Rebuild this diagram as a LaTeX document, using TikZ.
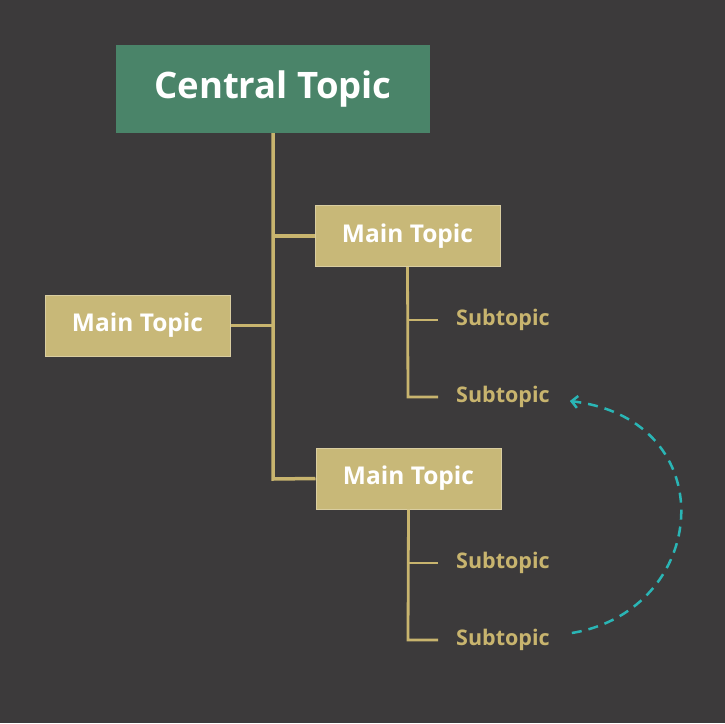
\documentclass[tikz,border=0pt]{standalone}
\usepackage{fontspec}
\setmainfont{Open Sans}
\usetikzlibrary{arrows.meta,calc}
\definecolor{bg}{HTML}{3C3A3B}
\definecolor{cgreen}{HTML}{4A8469}
\definecolor{tan}{HTML}{C8B878}
\definecolor{tanl}{HTML}{C8B46E}
\definecolor{teal}{HTML}{2AB5B5}
\tikzset{
 central/.style={fill=cgreen,minimum width=314pt,minimum height=88pt,inner sep=0pt,text=white,font=\bfseries\fontsize{36.5}{40}\selectfont},
 mainbox/.style={fill=tan,draw=tan!70!white,line width=1pt,minimum width=185pt,minimum height=61pt,inner sep=0pt,text=white,font=\bfseries\fontsize{24.5}{28}\selectfont},
 sub/.style={anchor=west,inner sep=0pt,text=tanl,font=\bfseries\fontsize{21.5}{24}\selectfont},
 branch/.style={draw=tanl,line width=3.5pt},
 subline/.style={draw=tanl,line width=2.8pt}
}
\begin{document}
\begin{tikzpicture}[x=1pt,y=-1pt]
\fill[bg] (0,0) rectangle (725,723);
\useasboundingbox (0,0) rectangle (725,723);
\node[central] (c) at (273,89) {Central Topic};
\node[mainbox] (m1) at (407.5,236) {Main Topic};
\node[mainbox] (m2) at (137.5,325.5) {Main Topic};
\node[mainbox] (m3) at (408.5,478.5) {Main Topic};
\node[sub] (s1) at (456,320) {Subtopic};
\node[sub] (s2) at (456,397) {Subtopic};
\node[sub] (s3) at (456,563) {Subtopic};
\node[sub] (s4) at (456,640) {Subtopic};
\coordinate (j) at (273,479);
\coordinate (a) at ($(s4.east)+(22,-7)$);
\coordinate (b) at ($(s2.east)+(20,4)$);
\draw[branch] (c.south) -- (j) -- (m3.west);
\draw[branch] (273,236) -- (m1.west);
\draw[branch] (m2.east) -- (273,325.5);
\draw[subline] (m1.south) -- (408,397) -- (438,397);
\draw[subline] (408,320) -- (438,320);
\draw[subline] (m3.south) -- (408,640) -- (438,640);
\draw[subline] (408,563) -- (438,563);
\draw[teal,line width=2.5pt,dash pattern=on 10pt off 7pt,-{Straight Barb[length=6pt,width=12pt]}]
 (a) .. controls (710,610) and (725,420) .. (b);
\end{tikzpicture}
\end{document}
